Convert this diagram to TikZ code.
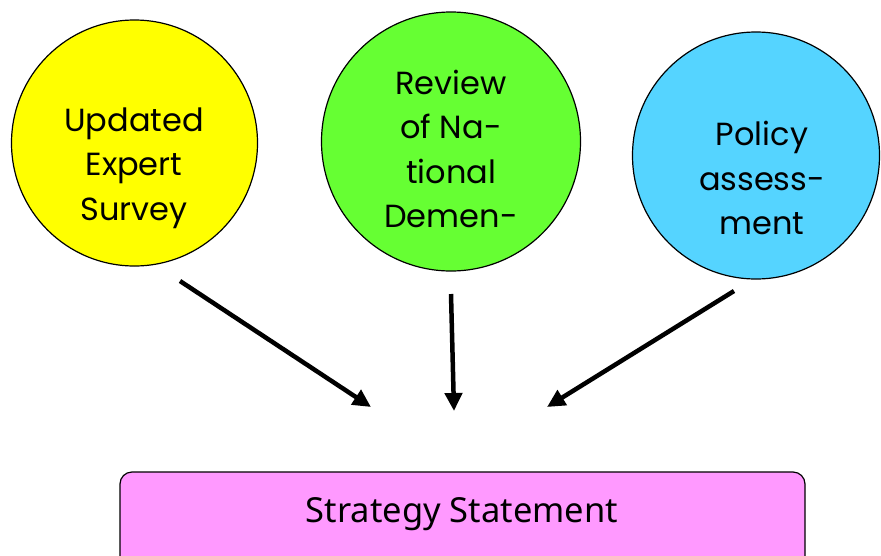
\documentclass[tikz,border=0pt]{standalone}
\usepackage{fontspec}
\setmainfont{Poppins}
\newfontfamily\boxfont{Noto Sans}
\usetikzlibrary{arrows.meta}
\definecolor{survey}{HTML}{FFFF00}
\definecolor{review}{HTML}{66FF33}
\definecolor{policy}{HTML}{55D4FF}
\definecolor{strategy}{HTML}{FF99FF}
\tikzset{
  source/.style={circle, draw=black, line width=1.2pt, inner sep=0pt},
  label/.style={align=center, font=\fontsize{32}{44.5}\selectfont, text=black},
  feed/.style={line width=4.5pt, -{Triangle[length=18pt,width=17pt]}},
  target/.style={draw=black, line width=1.2pt, rounded corners=12pt, fill=strategy}
}
\begin{document}
\begin{tikzpicture}[x=1pt,y=-1pt]
\useasboundingbox (0,0) rectangle (881,555);
\clip (0,0) rectangle (881,555);
\fill[white] (0,0) rectangle (881,555);
% input circles
\node[source, fill=survey, minimum size=246pt] (survey) at (134.5,143) {};
\node[source, fill=review, minimum size=259pt] (review) at (451,141.5) {};
\node[source, fill=policy, minimum size=247pt] (policy) at (756,155.5) {};
\node[label] (surveytext) at (134,168) {Updated\\Expert\\Survey};
\node[label] (reviewtext) at (451,149) {Review\\of Na-\\tional\\Demen-};
\node[label] (policytext) at (762,178) {Policy\\assess-\\ment};
% output box
\draw[target] (120,472) rectangle (805,575);
\node[font=\boxfont\fontsize{34.5}{40}\selectfont] (strategy) at (462,514) {Strategy Statement};
% arrow end points
\coordinate (a1) at (180,281);
\coordinate (b1) at (371,407);
\coordinate (a2) at (451,294);
\coordinate (b2) at (454,411);
\coordinate (a3) at (734,291);
\coordinate (b3) at (547,407);
\draw[feed] (a1) -- (b1);
\draw[feed] (a2) -- (b2);
\draw[feed] (a3) -- (b3);
\end{tikzpicture}
\end{document}
